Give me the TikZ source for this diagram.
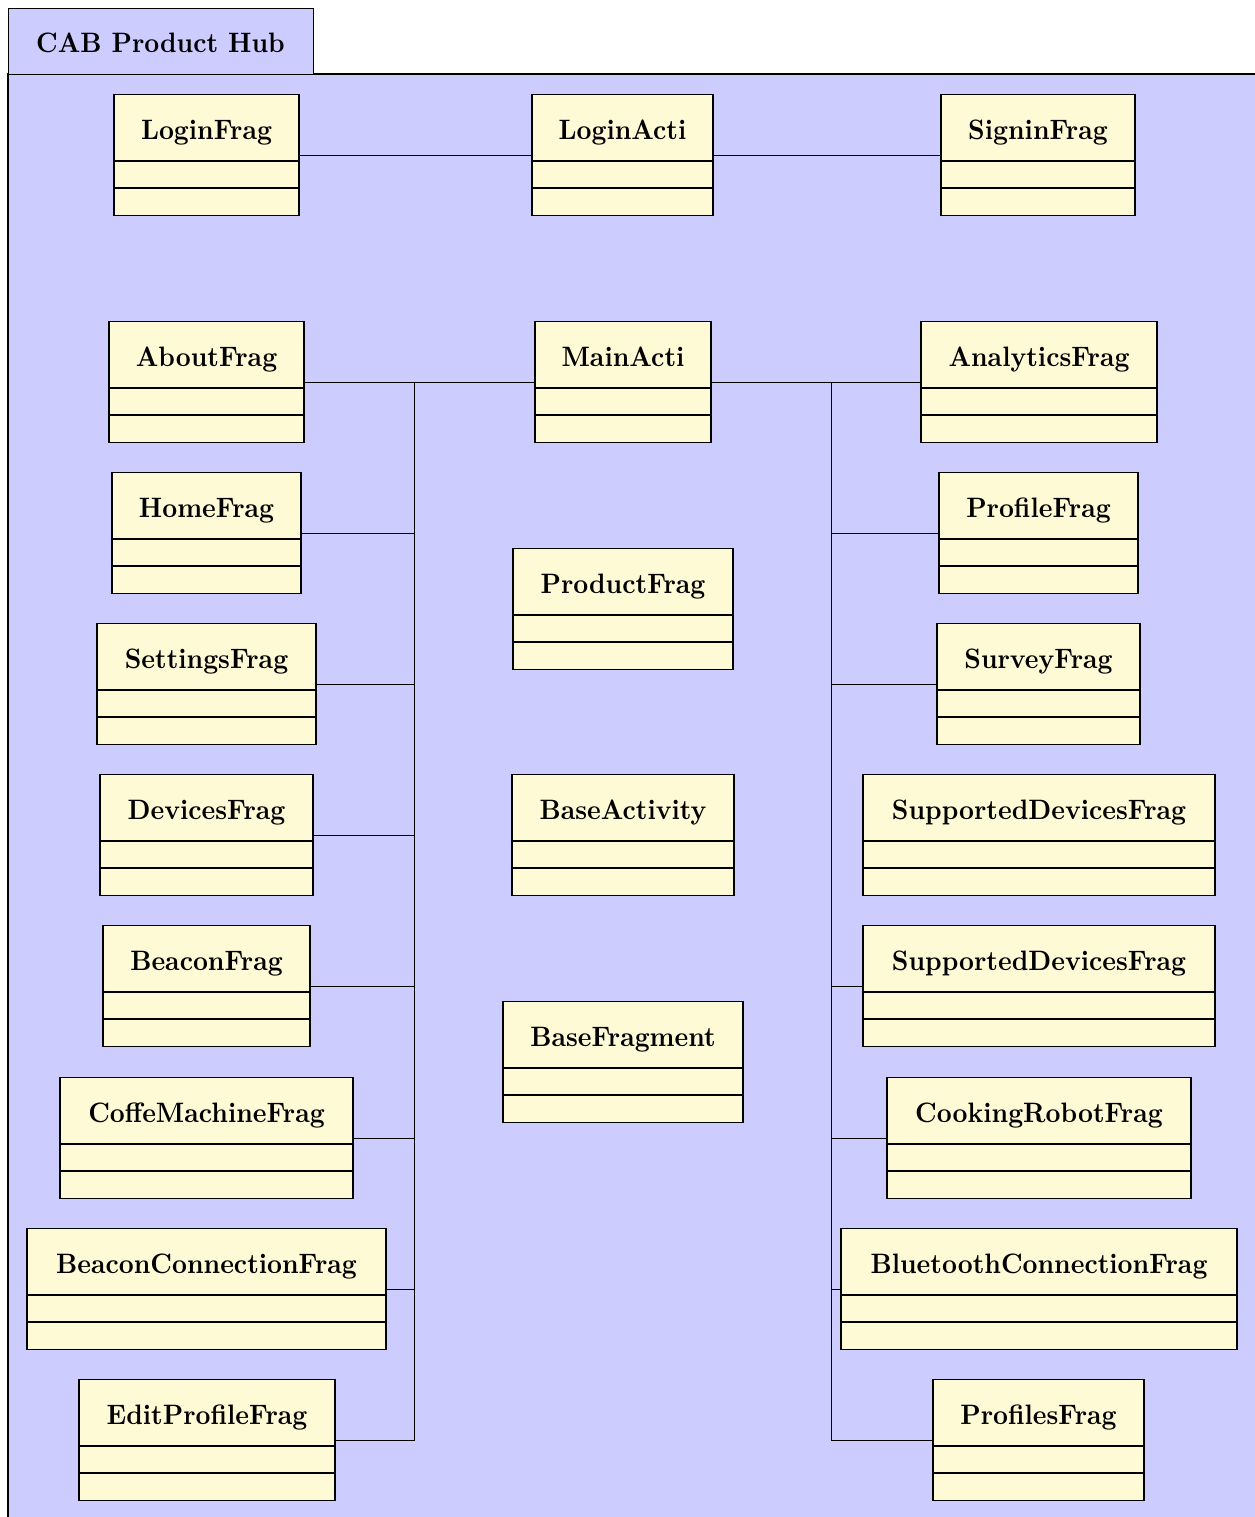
\documentclass[tikz,border=0pt]{standalone}
\usetikzlibrary{calc}

\definecolor{pkgfill}{RGB}{204,204,255}
\definecolor{classfill}{RGB}{255,250,214}

% one drawing unit
\newdimen\pxunit
\pxunit=0.3846pt

\tikzset{
  classbox/.style={draw=black, fill=classfill, line width=0.4pt,
    minimum height=121\pxunit, inner sep=0pt, anchor=north},
  classname/.style={font=\bfseries, anchor=base, inner sep=0pt},
  compline/.style={draw=black, line width=0.4pt},
  assoc/.style={draw=black, line width=0.4pt},
  pkgtab/.style={draw=black, fill=pkgfill, line width=0.4pt, inner sep=0pt,
    anchor=north west, minimum width=305\pxunit, minimum height=66\pxunit},
}

% slightly taller lettering for names
\newcommand\tallname[1]{\scalebox{1}[1.08]{#1}}

% class box: name, centre x, top y, width, title
\newcommand\umlclassbox[5]{%
  \node[classbox, minimum width=#4\pxunit] (#1) at (#2,#3) {};
  \node[classname] (#1-name) at (#2,#3+45) {\tallname{#5}};
  \draw[compline] ($(#1.north west)+(0,67)$) -- ($(#1.north east)+(0,67)$);
  \draw[compline] ($(#1.north west)+(0,94)$) -- ($(#1.north east)+(0,94)$);
}

\begin{document}
\begin{tikzpicture}[x=0.3846pt, y=-0.3846pt]
  \useasboundingbox (0,0) rectangle (1255,1517);
  \clip (0,0) rectangle (1255,1517);

  % package body and tab
  \fill[pkgfill] (8,74) rectangle (1300,1560);
  \draw[line width=0.4pt] (1300,74) -- (8,74) -- (8,1560);
  \node[pkgtab] (hub-tab) at (8,8) {};
  \node[classname] (hub-name) at (160.5,52) {\tallname{CAB Product Hub}};

  % classes
  \umlclassbox{loginfrag}{206.5}{94}{185}{LoginFrag}
  \umlclassbox{loginacti}{622.5}{94}{181}{LoginActi}
  \umlclassbox{signinfrag}{1038}{94}{194}{SigninFrag}

  \umlclassbox{aboutfrag}{206.5}{321}{195}{AboutFrag}
  \umlclassbox{mainacti}{623}{321}{176}{MainActi}
  \umlclassbox{analyticsfrag}{1039}{321}{236}{AnalyticsFrag}

  \umlclassbox{homefrag}{206.5}{472}{189}{HomeFrag}
  \umlclassbox{profilefrag}{1038.5}{472}{199}{ProfileFrag}
  \umlclassbox{productfrag}{623}{548}{220}{ProductFrag}

  \umlclassbox{settingsfrag}{206.5}{623}{219}{SettingsFrag}
  \umlclassbox{surveyfrag}{1038.5}{623}{203}{SurveyFrag}

  \umlclassbox{devicesfrag}{206.5}{774}{213}{DevicesFrag}
  \umlclassbox{baseactivity}{623}{774}{222}{BaseActivity}
  \umlclassbox{supporteda}{1039}{774}{352}{SupportedDevicesFrag}

  \umlclassbox{beaconfrag}{206.5}{925}{207}{BeaconFrag}
  \umlclassbox{supportedb}{1039}{925}{352}{SupportedDevicesFrag}
  \umlclassbox{basefragment}{623}{1001}{240}{BaseFragment}

  \umlclassbox{coffefrag}{206.5}{1077}{293}{CoffeMachineFrag}
  \umlclassbox{cookingfrag}{1039}{1077}{304}{CookingRobotFrag}

  \umlclassbox{beaconconnfrag}{206.5}{1228}{359}{BeaconConnectionFrag}
  \umlclassbox{bluetoothfrag}{1039}{1228}{396}{BluetoothConnectionFrag}

  \umlclassbox{editprofilefrag}{207}{1379}{256}{EditProfileFrag}
  \umlclassbox{profilesfrag}{1038.5}{1379}{211}{ProfilesFrag}

  % login associations
  \draw[assoc] (loginfrag.east) -- (loginacti.west);
  \draw[assoc] (loginacti.east) -- (signinfrag.west);

  % main activity associations, fanned out from two trunks
  \path (mainacti.west) ++(-120,0) coordinate (lefttrunk);
  \path (mainacti.east) ++(120,0) coordinate (righttrunk);
  \foreach \frag in {aboutfrag,homefrag,settingsfrag,devicesfrag,beaconfrag,
                     coffefrag,beaconconnfrag,editprofilefrag}
    \draw[assoc] (mainacti.west) -- (lefttrunk) |- (\frag.east);
  \foreach \frag in {analyticsfrag,profilefrag,surveyfrag,supportedb,
                     cookingfrag,bluetoothfrag,profilesfrag}
    \draw[assoc] (mainacti.east) -- (righttrunk) |- (\frag.west);
\end{tikzpicture}
\end{document}
